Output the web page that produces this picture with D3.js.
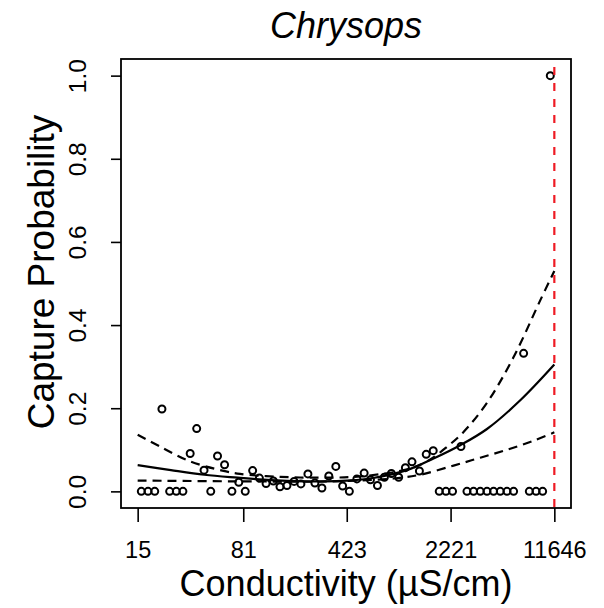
<!DOCTYPE html>
<html>
<head>
<meta charset="utf-8">
<script src="https://cdn.jsdelivr.net/npm/d3@7"></script>
<style>
  html, body { margin: 0; padding: 0; background: #fff; }
  svg { display: block; font-family: "Liberation Sans", Arial, sans-serif; }
</style>
</head>
<body>
<svg id="chart" width="604" height="608"></svg>
<script>
// ---- Data ----
const chartTitle = "Chrysops";
const xTitle = "Conductivity (µS/cm)";
const yTitle = "Capture Probability";
const xTickValues = [15, 81, 423, 2221, 11646];
const yTickValues = [0, 0.2, 0.4, 0.6, 0.8, 1.0];
const maxConductivity = 11646;

// observed binned capture probabilities
const obsConductivity = [
  15.9, 17.7, 19.7, 25.0, 27.8, 30.9, 48.2, 67.6, 83.6,
  22.1, 38.5, 34.7, 53.7, 60.1, 43.3, 75.4, 94.1, 104.8, 116.6, 131.0,
  145.6, 162.8, 182.4, 203.4, 227.5, 254.4, 284.5, 317.6, 355.3, 396.2,
  441, 497.3, 558.5, 617.6, 690.6, 771.4, 862.6, 969.4, 1079, 1199, 1350,
  1505, 1683, 2621, 7131, 10917,
  1853, 2062, 2292, 2885, 3205, 3569, 3972, 4413, 4911, 5467, 6077,
  7811, 8697, 9663
];
const obsProbability = [
  0, 0, 0, 0, 0, 0, 0, 0, 0,
  0.198, 0.151, 0.091, 0.085, 0.064, 0.051, 0.022, 0.050, 0.032, 0.019, 0.025,
  0.011, 0.014, 0.024, 0.018, 0.042, 0.020, 0.008, 0.037, 0.060, 0.013,
  0, 0.030, 0.044, 0.028, 0.014, 0.034, 0.043, 0.034, 0.057, 0.071, 0.049,
  0.089, 0.098, 0.108, 0.332, 1.0,
  0, 0, 0, 0, 0, 0, 0, 0, 0, 0, 0,
  0, 0, 0
];

// fitted curve (solid)
const fitConductivity = [15, 25.5, 43.5, 74.2, 126, 214, 300, 423, 615, 1105, 1691, 2592, 3972, 6759, 11646];
const fitProbability  = [0.063, 0.051, 0.040, 0.033, 0.027, 0.024, 0.024, 0.026, 0.031, 0.051, 0.079, 0.111, 0.150, 0.219, 0.305];

// upper confidence bound (dashed)
const upperConductivity = [15, 21.4, 34.1, 58, 77, 146, 276, 524, 1165, 1606, 2095, 2732, 3972, 6077, 9313, 11646];
const upperProbability  = [0.136, 0.108, 0.073, 0.050, 0.042, 0.035, 0.033, 0.036, 0.055, 0.077, 0.107, 0.143, 0.213, 0.323, 0.460, 0.530];

// lower confidence bound (dashed)
const lowerConductivity = [15, 90, 325, 892, 1367, 2329, 3569, 5467, 8360, 11646];
const lowerProbability  = [0.026, 0.024, 0.024, 0.031, 0.040, 0.062, 0.081, 0.100, 0.122, 0.142];

// ---- Layout ----
const plot = { left: 121, right: 571, top: 59, bottom: 508 };
const svg = d3.select("#chart");

// R-style 4% axis expansion
const lnMin = Math.log(15), lnMax = Math.log(maxConductivity);
const ext = 0.04 * (lnMax - lnMin);
const x = d3.scaleLog()
  .domain([Math.exp(lnMin - ext), Math.exp(lnMax + ext)])
  .range([plot.left, plot.right]);
const y = d3.scaleLinear()
  .domain([-0.04, 1.04])
  .range([plot.bottom, plot.top]);

// x axis
const xAxis = svg.append("g")
  .attr("transform", `translate(0,${plot.bottom})`)
  .call(d3.axisBottom(x).tickValues(xTickValues).tickFormat(d3.format("d")).tickSize(14).tickSizeOuter(0));
xAxis.select(".domain").remove();
xAxis.selectAll(".tick line").attr("stroke", "#000").attr("stroke-width", 1.6);
xAxis.selectAll(".tick text")
  .attr("y", 50).attr("dy", 0)
  .attr("fill", "#000")
  .style("font-size", "23.5px")
  .style("font-family", "Liberation Sans, Arial, sans-serif");

// y axis
const yAxis = svg.append("g")
  .attr("transform", `translate(${plot.left},0)`)
  .call(d3.axisLeft(y).tickValues(yTickValues).tickFormat(d3.format(".1f")).tickSize(10).tickSizeOuter(0));
yAxis.select(".domain").remove();
yAxis.selectAll(".tick line").attr("stroke", "#000").attr("stroke-width", 1.6);
yAxis.selectAll(".tick text")
  .attr("x", 0).attr("y", -35).attr("dy", 0)
  .attr("transform", "rotate(-90)")
  .attr("text-anchor", "middle")
  .attr("fill", "#000")
  .style("font-size", "24.5px")
  .style("font-family", "Liberation Sans, Arial, sans-serif");

// points
const obs = obsConductivity.map((c, i) => [c, obsProbability[i]]);
svg.append("g").selectAll("circle")
  .data(obs)
  .join("circle")
  .attr("cx", d => x(d[0]))
  .attr("cy", d => y(d[1]))
  .attr("r", 3.5)
  .attr("fill", "none")
  .attr("stroke", "#000")
  .attr("stroke-width", 2);

const line = d3.line()
  .x(d => x(d[0]))
  .y(d => y(d[1]))
  .curve(d3.curveCatmullRom.alpha(0.5));

const fit = fitConductivity.map((c, i) => [c, fitProbability[i]]);
const upper = upperConductivity.map((c, i) => [c, upperProbability[i]]);
const lower = lowerConductivity.map((c, i) => [c, lowerProbability[i]]);

svg.append("path").datum(fit)
  .attr("d", line).attr("fill", "none")
  .attr("stroke", "#000").attr("stroke-width", 2.2);
svg.append("path").datum(upper)
  .attr("d", line).attr("fill", "none")
  .attr("stroke", "#000").attr("stroke-width", 2.2)
  .attr("stroke-dasharray", "9,6");
svg.append("path").datum(lower)
  .attr("d", line).attr("fill", "none")
  .attr("stroke", "#000").attr("stroke-width", 2.2)
  .attr("stroke-dasharray", "9,6");

// red dashed vertical at max conductivity
svg.append("line")
  .attr("x1", x(maxConductivity)).attr("x2", x(maxConductivity))
  .attr("y1", plot.bottom).attr("y2", plot.top)
  .attr("stroke", "#ee1b24").attr("stroke-width", 2.2)
  .attr("stroke-dasharray", "8,8")
  .attr("stroke-dashoffset", 15);

// box
svg.append("rect")
  .attr("x", plot.left).attr("y", plot.top)
  .attr("width", plot.right - plot.left).attr("height", plot.bottom - plot.top)
  .attr("fill", "none").attr("stroke", "#000").attr("stroke-width", 1.8);

// titles
svg.append("text")
  .attr("x", (plot.left + plot.right) / 2).attr("y", 38)
  .attr("text-anchor", "middle")
  .style("font-size", "36px").style("font-style", "italic")
  .text(chartTitle);

svg.append("text")
  .attr("x", (plot.left + plot.right) / 2).attr("y", 596)
  .attr("text-anchor", "middle")
  .style("font-size", "36px")
  .text(xTitle);

svg.append("text")
  .attr("transform", `translate(54,272) rotate(-90)`)
  .attr("text-anchor", "middle")
  .style("font-size", "37px")
  .text(yTitle);
</script>
</body>
</html>
